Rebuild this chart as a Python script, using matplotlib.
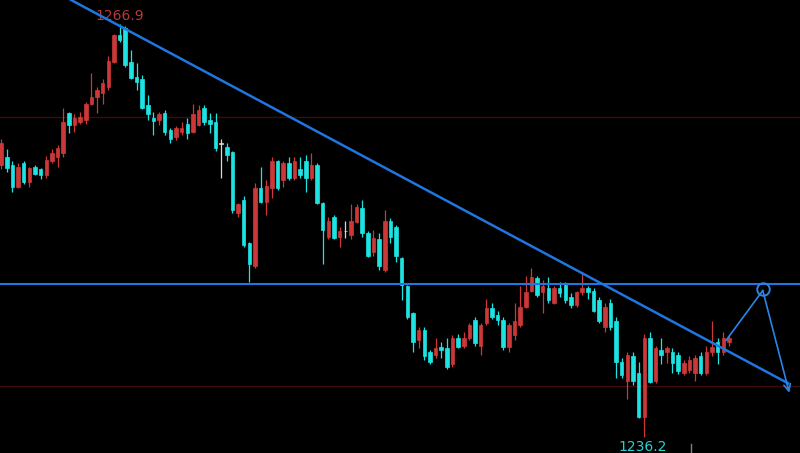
import numpy as np
import matplotlib.pyplot as plt

# OHLC (one list per field, candle index = position)
opens = [1256.4, 1257.0, 1256.4, 1254.8, 1256.6, 1255.2, 1256.3, 1256.1, 1255.7, 1256.7,
         1257.0, 1257.3, 1260.3, 1259.4, 1259.6, 1259.8, 1261.0, 1261.5, 1261.8, 1262.2,
         1264.1, 1266.1, 1266.6, 1264.1, 1263.0, 1262.8, 1260.9, 1259.9, 1259.8, 1260.3,
         1259.0, 1258.5, 1258.9, 1259.5, 1258.9, 1259.4, 1260.7, 1259.8, 1259.6, 1258.0,
         1257.8, 1257.4, 1252.9, 1253.8, 1250.6, 1248.9, 1254.7, 1253.7, 1254.7, 1256.7,
         1255.3, 1256.6, 1255.5, 1256.1, 1256.7, 1255.5, 1256.4, 1253.6, 1251.1, 1252.6,
         1251.1, 1251.5, 1251.2, 1252.2, 1253.2, 1251.4, 1250.0, 1250.9, 1248.6, 1252.3,
         1251.8, 1249.5, 1247.4, 1245.4, 1243.4, 1244.2, 1242.5, 1242.3, 1242.9, 1242.8,
         1241.6, 1243.6, 1243.0, 1243.6, 1244.9, 1243.0, 1244.7, 1245.8, 1245.3, 1244.9,
         1242.9, 1243.8, 1244.5, 1245.9, 1247.1, 1248.0, 1247.0, 1247.3, 1246.2, 1247.3,
         1247.5, 1246.6, 1246.0, 1247.0, 1247.3, 1247.1, 1246.4, 1244.4, 1246.2, 1244.8,
         1241.8, 1240.4, 1242.2, 1241.0, 1237.7, 1243.6, 1240.4, 1242.7, 1242.5, 1242.5,
         1242.3, 1241.0, 1241.2, 1241.0, 1242.2, 1241.0, 1242.5, 1243.3, 1242.5, 1243.3]
highs = [1258.4, 1257.6, 1256.7, 1256.6, 1256.7, 1256.3, 1256.4, 1256.2, 1257.1, 1257.6,
         1257.9, 1260.7, 1260.4, 1260.2, 1260.4, 1261.1, 1263.3, 1262.2, 1262.8, 1264.5,
         1266.2, 1266.9, 1266.8, 1265.0, 1264.0, 1263.1, 1261.6, 1260.4, 1260.4, 1260.5,
         1259.2, 1259.3, 1259.6, 1259.9, 1261.0, 1260.9, 1260.9, 1260.3, 1260.3, 1258.4,
         1258.1, 1257.5, 1253.6, 1254.1, 1250.7, 1255.1, 1256.3, 1255.3, 1257.0, 1256.8,
         1256.7, 1257.0, 1257.0, 1257.0, 1257.2, 1257.3, 1256.6, 1253.7, 1252.6, 1252.7,
         1251.8, 1252.3, 1253.5, 1253.5, 1253.8, 1251.5, 1251.6, 1251.4, 1253.1, 1252.5,
         1252.0, 1249.6, 1247.5, 1245.5, 1244.4, 1244.4, 1242.7, 1243.6, 1243.3, 1243.6,
         1243.8, 1243.9, 1244.0, 1244.7, 1245.1, 1244.7, 1246.5, 1246.2, 1245.6, 1245.1,
         1244.7, 1246.2, 1247.4, 1248.2, 1248.8, 1248.2, 1247.9, 1248.1, 1247.4, 1247.7,
         1247.7, 1246.9, 1247.1, 1248.5, 1247.4, 1247.3, 1246.6, 1246.2, 1246.5, 1245.1,
         1242.1, 1242.5, 1242.5, 1241.8, 1243.9, 1244.0, 1243.0, 1243.6, 1243.0, 1242.8,
         1242.5, 1241.9, 1242.2, 1242.3, 1242.5, 1243.0, 1244.8, 1243.6, 1244.0, 1243.8]
lows = [1256.1, 1255.9, 1254.4, 1254.7, 1255.0, 1254.8, 1255.7, 1255.4, 1255.5, 1256.6,
        1256.3, 1257.0, 1258.8, 1258.9, 1259.5, 1259.5, 1260.9, 1260.3, 1261.0, 1262.0,
        1264.0, 1265.6, 1263.7, 1262.8, 1262.0, 1260.6, 1259.8, 1258.7, 1259.4, 1258.7,
        1258.1, 1258.3, 1258.7, 1258.4, 1258.8, 1259.3, 1259.4, 1258.8, 1257.5, 1255.5,
        1256.7, 1252.9, 1252.6, 1250.3, 1247.7, 1248.8, 1253.6, 1252.7, 1254.0, 1254.6,
        1254.8, 1255.3, 1255.3, 1255.5, 1254.4, 1255.3, 1253.5, 1249.1, 1250.9, 1250.9,
        1250.3, 1251.0, 1250.9, 1252.1, 1251.1, 1249.6, 1249.7, 1248.6, 1248.5, 1250.6,
        1249.2, 1246.4, 1245.0, 1242.5, 1242.8, 1241.9, 1241.6, 1242.1, 1242.1, 1241.3,
        1241.4, 1242.8, 1242.8, 1243.4, 1243.0, 1242.3, 1244.5, 1245.0, 1244.5, 1242.7,
        1242.5, 1243.4, 1244.4, 1245.8, 1247.0, 1246.6, 1245.4, 1246.2, 1246.1, 1246.6,
        1246.2, 1245.8, 1245.9, 1246.8, 1246.5, 1245.5, 1244.7, 1244.0, 1244.2, 1240.6,
        1240.6, 1239.0, 1240.1, 1237.6, 1236.2, 1240.2, 1240.2, 1241.6, 1241.7, 1241.0,
        1240.9, 1240.8, 1241.0, 1240.4, 1240.8, 1240.8, 1242.2, 1241.6, 1242.3, 1243.0]
closes = [1258.1, 1256.2, 1254.8, 1256.3, 1255.2, 1256.2, 1255.8, 1255.7, 1256.8, 1257.3,
          1257.7, 1259.6, 1259.4, 1259.9, 1260.0, 1261.0, 1261.5, 1262.0, 1262.5, 1264.2,
          1266.1, 1265.7, 1263.9, 1262.9, 1262.6, 1260.7, 1260.2, 1259.7, 1260.2, 1258.9,
          1258.4, 1259.2, 1259.2, 1258.8, 1260.2, 1260.5, 1259.6, 1259.5, 1257.7, 1258.0,
          1257.2, 1253.1, 1253.5, 1250.5, 1249.1, 1254.7, 1253.7, 1254.9, 1256.7, 1254.7,
          1256.6, 1255.5, 1256.7, 1255.7, 1255.5, 1256.4, 1253.6, 1251.6, 1252.3, 1251.0,
          1251.5, 1251.5, 1252.3, 1253.3, 1251.4, 1249.7, 1251.0, 1248.9, 1252.3, 1251.1,
          1249.7, 1247.5, 1245.1, 1243.3, 1244.2, 1242.2, 1241.8, 1242.8, 1242.7, 1241.4,
          1243.6, 1242.9, 1243.6, 1244.5, 1243.2, 1244.5, 1245.8, 1245.1, 1244.9, 1242.9,
          1244.5, 1244.8, 1245.9, 1247.0, 1248.1, 1246.8, 1247.4, 1246.4, 1247.3, 1246.9,
          1246.4, 1246.0, 1247.0, 1247.3, 1247.0, 1245.6, 1244.8, 1245.9, 1244.4, 1241.8,
          1240.8, 1242.3, 1240.4, 1237.7, 1243.6, 1240.3, 1242.8, 1242.3, 1242.8, 1241.7,
          1241.1, 1241.7, 1241.9, 1242.1, 1241.0, 1242.5, 1242.9, 1242.5, 1243.6, 1243.6]

high_label = "1266.9"
low_label = "1236.2"
support_level = 1247.6
grid_levels = [1260, 1240]
trend_pts = ([12.4, 139.5], [1268.7, 1240.2])   # falling trend line
path_idx = [128.5, 135.0, 139.7]                  # projected move
path_px = [1243.4, 1247.1, 1239.5]
period_mark = 122.3                               # small separator tick at the bottom

UP = "#cc3838"
DOWN = "#1ee3e3"
BLUE = "#1f76e0"

o = np.array(opens)
h = np.array(highs)
l = np.array(lows)
c = np.array(closes)
x = np.arange(len(o))

fig = plt.figure(figsize=(8, 4.53), dpi=100)
fig.patch.set_facecolor("black")
ax = fig.add_axes([0, 0, 1, 1])
ax.set_facecolor("black")

for g in grid_levels:
    ax.axhline(g, color="#3e0b0b", lw=1.0, zorder=1)

colors = np.where(c > o, UP, np.where(c < o, DOWN, "#d8d8d8"))
ax.vlines(x, l, h, colors=colors, lw=0.9, zorder=2)
bottom = np.minimum(o, c)
height = np.maximum(np.abs(c - o), 0.06)
ax.bar(x, height, bottom=bottom, width=0.62, color=colors, edgecolor=colors,
       linewidth=0.5, zorder=3)

# lines drawn on the chart
ax.axhline(support_level, color=BLUE, lw=1.5, zorder=4)
ax.plot(trend_pts[0], trend_pts[1], color=BLUE, lw=1.8, zorder=4)
ax.plot(path_idx[:2], path_px[:2], color="#2a86e6", lw=1.2, zorder=5)
ax.annotate("", xy=(path_idx[2], path_px[2]), xytext=(path_idx[1], path_px[1]),
            arrowprops=dict(arrowstyle="->", color="#2a86e6", lw=1.2,
                            mutation_scale=12, shrinkA=0, shrinkB=0), zorder=5)
ax.plot(path_idx[1], path_px[1] + 0.1, "o", mfc="none", mec="#2a86e6",
        ms=9, mew=1.4, zorder=6)
ax.axvline(period_mark, ymin=0, ymax=0.02, color="#808080", lw=1.0)

# extreme labels
i_hi = int(np.argmax(h))
i_lo = int(np.argmin(l))
ax.annotate(high_label, (x[i_hi], h[i_hi]), xytext=(0, 1), textcoords="offset points",
            ha="center", va="bottom", color="#b83a3a", fontsize=10, zorder=3)
ax.annotate(low_label, (x[i_lo], l[i_lo]), xytext=(-1, -2), textcoords="offset points",
            ha="center", va="top", color="#2ad0d0", fontsize=10)

ax.set_xlim(-0.2, 141.6)
ax.set_ylim(1235.02, 1268.70)
ax.axis("off")

fig.savefig("out.png", dpi=100, facecolor="black")
